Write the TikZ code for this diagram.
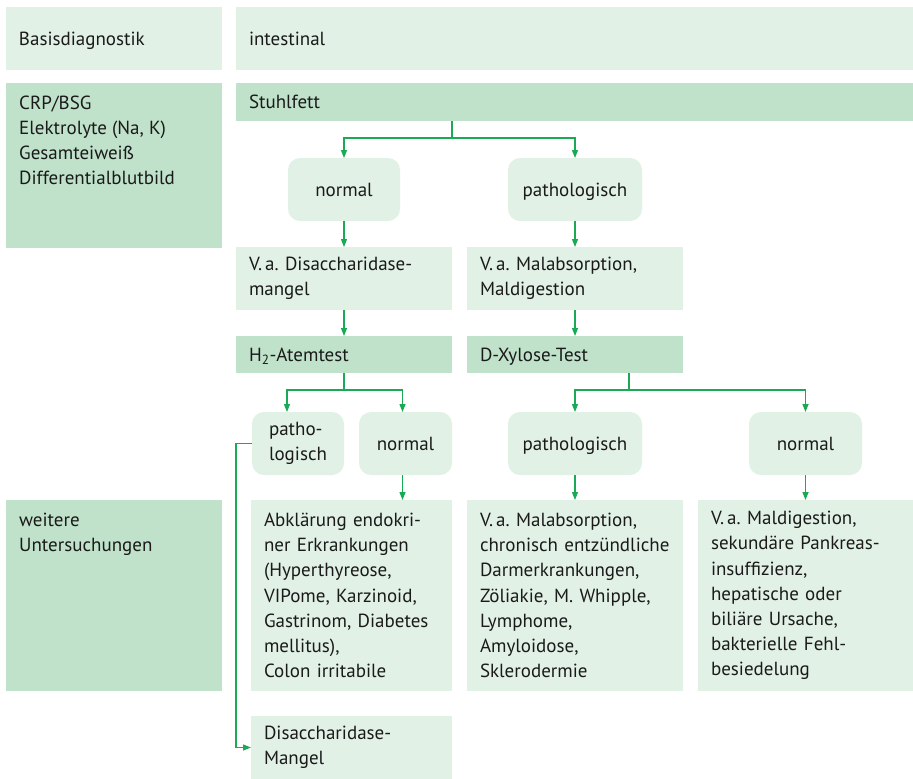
\documentclass[tikz,border=0pt]{standalone}
\usepackage{fontspec}
\setmainfont{PT Sans}
\usetikzlibrary{calc,arrows.meta}
\definecolor{DiagPale}{HTML}{E2F1E6}
\definecolor{DiagMid}{HTML}{C0E2CB}
\definecolor{DiagGreen}{HTML}{1AAA55}
\definecolor{DiagText}{HTML}{1A1A1A}

\begin{document}
\begin{tikzpicture}[x=1pt,y=-1pt,font=\fontsize{19pt}{25.2pt}\selectfont,text=DiagText,
    box/.style={fill=DiagPale,anchor=north west,align=left,inner xsep=13pt,inner ysep=0pt,outer sep=0pt},
    head/.style={box,fill=DiagMid},
    res/.style={fill=DiagPale,anchor=north west,align=center,rounded corners=12pt,inner sep=0pt,outer sep=0pt,minimum height=63pt},
    one/.style={text depth=0pt},
    txt/.style={anchor=north west,align=left,inner sep=0pt},
    arr/.style={-{Triangle[length=8pt,width=6pt]},line width=1.3pt,color=DiagGreen}]
  \fill[white] (0,0) rectangle (913,779);
  % left column and top row
  \node[box,one,text width=190pt,minimum height=63pt] (basis) at (6,7) {Basisdiagnostik};
  \node[box,one,text width=651pt,minimum height=63pt] (intest) at (236,7) {intestinal};
  \node[head,text width=190pt,minimum height=165pt] (labor) at (6,83) {};
  \node[txt] (labortxt) at ([xshift=13pt,yshift=-12.5pt]labor.north west) {CRP/BSG\\Elektrolyte (Na, K)\\Gesamteiweiß\\Differentialblutbild};
  \node[head,text width=190pt,minimum height=191pt] (weitere) at (6,500) {};
  \node[txt] (weiteretxt) at ([xshift=13pt,yshift=-13pt]weitere.north west) {weitere\\Untersuchungen};
  % Stuhlfett
  \node[head,one,text width=651pt,minimum height=38pt] (stuhl) at (236,83) {Stuhlfett};
  \node[res,one,minimum width=112pt] (n1) at (288,158) {normal};
  \node[res,one,minimum width=134pt] (p1) at (508,158) {pathologisch};
  \node[box,text width=190pt,minimum height=63pt] (dis) at (236,247) {V.\,a.\ Disaccharidase-\\mangel};
  \node[box,text width=190pt,minimum height=63pt] (mal) at (467,247) {V.\,a.\ Malabsorption,\\Maldigestion};
  % tests
  \node[head,one,text width=190pt,minimum height=37pt] (h2) at (236,336) {H\textsubscript{2}-Atemtest};
  \node[head,one,text width=190pt,minimum height=37pt] (xyl) at (467,336) {D-Xylose-Test};
  \node[res,minimum width=92pt,align=left] (p2) at (252,412) {patho-\\logisch};
  \node[res,one,minimum width=93pt] (n2) at (359,412) {normal};
  \node[res,one,minimum width=134pt] (p3) at (508,412) {pathologisch};
  \node[res,one,minimum width=113pt] (n3) at (749,412) {normal};
  % findings
  \node[box,text width=175pt,minimum height=191pt] (endo) at (251,500) {Abklärung endokri-\\ner Erkrankungen\\(Hyperthyreose,\\VIPome, Karzinoid,\\Gastrinom, Diabetes\\mellitus),\\Colon irritabile};
  \node[box,text width=190pt,minimum height=191pt] (malab) at (467,500) {V.\,a.\ Malabsorption,\\chronisch~entzündliche\\Darmerkrankungen,\\Zöliakie, M.~Whipple,\\Lymphome,\\Amyloidose,\\Sklerodermie};
  \node[box,text width=189pt,minimum height=191pt] (maldig) at (698,500) {V.\,a.\ Maldigestion,\\sekundäre Pankreas-\\insuffizienz,\\hepatische oder\\biliäre Ursache,\\bakterielle Fehl-\\besiedelung};
  \node[box,text width=175pt,minimum height=63pt] (mangel) at (251,716) {Disaccharidase-\\Mangel};
  % connectors
  \draw[arr] (stuhl.south -| dis.east) -- ++(0,17) -| (n1.north);
  \draw[arr] (stuhl.south -| dis.east) -- ++(0,17) -| (p1.north);
  \draw[arr] (n1.south) -- (dis.north); \draw[arr] (p1.south) -- (mal.north);
  \draw[arr] (dis.south) -- (h2.north); \draw[arr] (mal.south) -- (xyl.north);
  \draw[arr] (h2.south) -- ++(0,17) -| ([xshift=-11pt]p2.north);
  \draw[arr] (h2.south) -- ++(0,17) -| ([xshift=-3pt]n2.north);
  \draw[arr] ([xshift=54pt]xyl.south) -- ++(0,17) -| (p3.north);
  \draw[arr] ([xshift=54pt]xyl.south) -- ++(0,17) -| (n3.north);
  \draw[arr] ([xshift=-3pt]n2.south) -- ++(0,25);
  \draw[arr] (p3.south) -- (malab.north); \draw[arr] (n3.south) -- (maldig.north);
  \draw[arr] (p2.west) -- ++(-16,0) |- (mangel.west);
\end{tikzpicture}
\end{document}
